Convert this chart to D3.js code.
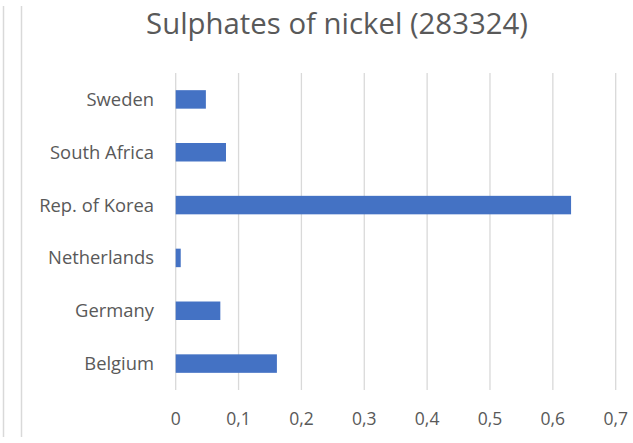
<!DOCTYPE html>
<html><head><meta charset="utf-8">
<script src="https://cdn.jsdelivr.net/npm/d3@7"></script>
<style>body{margin:0;background:#fff}svg{display:block}</style>
</head><body>
<script>
const categories = ["Sweden","South Africa","Rep. of Korea","Netherlands","Germany","Belgium"];
const values = [0.048,0.080,0.629,0.008,0.071,0.161];
const tickValues = [0,0.1,0.2,0.3,0.4,0.5,0.6,0.7];
const tickLabels = ["0","0,1","0,2","0,3","0,4","0,5","0,6","0,7"];
const title = "Sulphates of nickel (283324)";

const W=633,H=443;
const svg=d3.select("body").append("svg").attr("width",W).attr("height",H);
const font="'Open Sans', sans-serif";
const grey="#595959";
svg.append("line").attr("x1",3.5).attr("x2",3.5).attr("y1",6).attr("y2",437).attr("stroke","#d9d9d9").attr("stroke-width",1.5);
svg.append("line").attr("x1",21.5).attr("x2",21.5).attr("y1",6).attr("y2",437).attr("stroke","#d9d9d9").attr("stroke-width",1.5);

const x=d3.scaleLinear().domain([0,0.7]).range([175.7,615.7]);
const y=d3.scaleBand().domain(categories).range([73,390]).paddingInner(0.65).paddingOuter(0.325);

function fit(sel,target){const w=sel.node().getBBox().width;const fs=+sel.attr("font-size");return fs*target/w;}

const g=svg.append("g");
g.selectAll("line.grid").data(tickValues).join("line").attr("class","grid")
 .attr("x1",d=>x(d)).attr("x2",d=>x(d)).attr("y1",73).attr("y2",390)
 .attr("stroke","#d9d9d9").attr("stroke-width",1.3);
g.selectAll("rect").data(categories).join("rect")
 .attr("x",x(0)).attr("y",d=>y(d)).attr("width",(d,i)=>x(values[i])-x(0)).attr("height",y.bandwidth())
 .attr("fill","#4472c4");
const cats=g.selectAll("text.cat").data(categories).join("text").attr("class","cat")
 .attr("x",154).attr("y",d=>y(d)+y.bandwidth()/2).attr("dy","0.35em").attr("text-anchor","end")
 .attr("font-family",font).attr("font-size",16).attr("fill",grey).text(d=>d);
const fsl=fit(cats.filter(d=>d==="Rep. of Korea"),115);
cats.attr("font-size",fsl);
g.selectAll("text.tick").data(tickValues).join("text").attr("class","tick")
 .attr("x",d=>x(d)).attr("y",425).attr("text-anchor","middle")
 .attr("font-family",font).attr("font-size",17.5).attr("fill",grey).text((d,i)=>tickLabels[i]);
const t=svg.append("text").attr("x",337).attr("y",34).attr("text-anchor","middle")
 .attr("font-family",font).attr("font-size",26).attr("fill",grey).text(title);
t.attr("font-size",fit(t,382));
</script>
</body></html>
